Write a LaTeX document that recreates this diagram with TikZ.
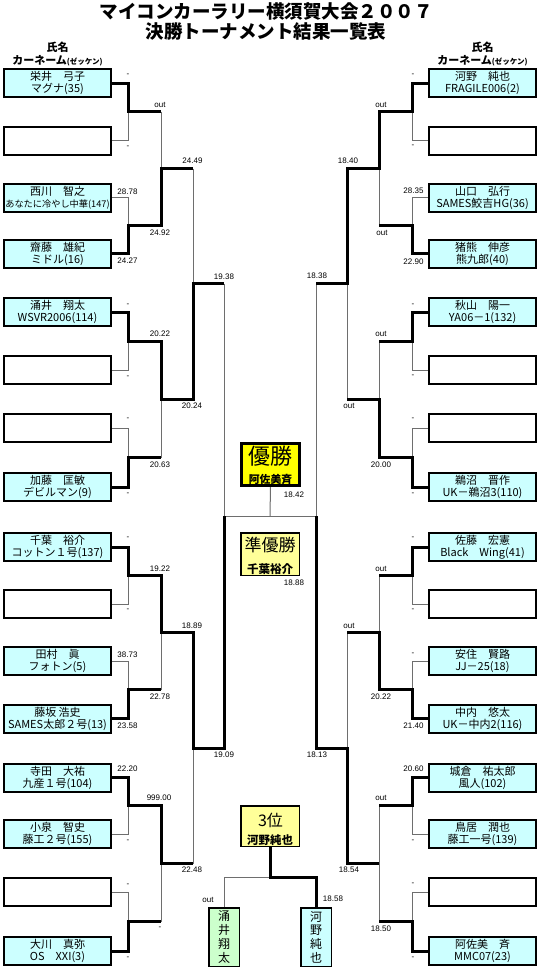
\documentclass[tikz,border=0pt]{standalone}
\usepackage{fontspec}
\setmainfont{Noto Sans CJK JP}
\newfontfamily\numfont{Liberation Sans}
\usetikzlibrary{calc}
\definecolor{boxcyan}{RGB}{204,255,255}
\definecolor{boxgreen}{RGB}{204,255,204}
\definecolor{goldyel}{RGB}{255,255,0}
\definecolor{paleyel}{RGB}{255,255,153}
\definecolor{linegray}{RGB}{110,110,110}
\begin{document}
\begin{tikzpicture}[x=1pt,y=-1pt,
  cbox/.style={draw=black,line width=2pt,fill=boxcyan,minimum width=107pt,minimum height=28pt,inner sep=0pt,align=center,font=\fontsize{11}{12}\selectfont},
  ebox/.style={draw=black,line width=2pt,fill=white,minimum width=107pt,minimum height=28pt,inner sep=0pt},
  vbox/.style={draw=black,line width=1.5pt,minimum width=30.5pt,minimum height=58.5pt,inner sep=0pt,align=center,font=\fontsize{12}{13.7}\selectfont},
  thn/.style={line width=1pt,draw=linegray},
  thk/.style={line width=3pt,draw=black},
  tlab/.style={font=\numfont\fontsize{8}{9}\selectfont,inner sep=0pt},
  hdr/.style={font=\bfseries\fontsize{11}{12}\selectfont,inner sep=0pt},
  ttl/.style={font=\bfseries\fontsize{18.5}{20}\selectfont,inner sep=0pt}
]
\fill[white] (0,0) rectangle (540,969);
\useasboundingbox (0,0) rectangle (540,969);

% title
\node[ttl] (T1) at (266,12) {マイコンカーラリー横須賀大会２００７};
\node[ttl] (T2) at (266,31) {決勝トーナメント結果一覧表};

% headers
\node[hdr] (LH1) at (57.5,47) {氏名};
\node[hdr] (LH2) at (57.5,60.5) {カーネーム{\fontsize{7.5}{8}\selectfont (ゼッケン)}};
\node[hdr] (RH1) at (482.5,47) {氏名};
\node[hdr] (RH2) at (482.5,60.5) {カーネーム{\fontsize{7.5}{8}\selectfont (ゼッケン)}};

% left boxes
\node[cbox] (L1) at (57.5,83) {栄井　弓子\\マグナ(35)};
\node[ebox] (L2) at (57.5,140.5) {};
\node[cbox] (L3) at (57.5,197.5) {西川　智之\\{\fontsize{9.2}{12}\selectfont あなたに冷やし中華(147)}};
\node[cbox] (L4) at (57.5,253.5) {齋藤　雄紀\\ミドル(16)};
\node[cbox] (L5) at (57.5,312) {涌井　翔太\\WSVR2006(114)};
\node[ebox] (L6) at (57.5,370) {};
\node[ebox] (L7) at (57.5,428) {};
\node[cbox] (L8) at (57.5,487) {加藤　匡敏\\デビルマン(9)};
\node[cbox] (L9) at (57.5,547) {千葉　裕介\\コットン１号(137)};
\node[ebox] (L10) at (57.5,604) {};
\node[cbox] (L11) at (57.5,661) {田村　眞\\フォトン(5)};
\node[cbox] (L12) at (57.5,718.5) {藤坂 浩史\\SAMES太郎２号(13)};
\node[cbox] (L13) at (57.5,777.5) {寺田　大祐\\九産１号(104)};
\node[cbox] (L14) at (57.5,834) {小泉　智史\\藤工２号(155)};
\node[ebox] (L15) at (57.5,892) {};
\node[cbox] (L16) at (57.5,951) {大川　真弥\\OS　XXI(3)};

% right boxes
\node[cbox] (R1) at (482.5,83) {河野　純也\\FRAGILE006(2)};
\node[ebox] (R2) at (482.5,140.5) {};
\node[cbox] (R3) at (482.5,197.5) {山口　弘行\\SAMES鮫吉HG(36)};
\node[cbox] (R4) at (482.5,253.5) {猪熊　伸彦\\熊九郎(40)};
\node[cbox] (R5) at (482.5,312) {秋山　陽一\\YA06－1(132)};
\node[ebox] (R6) at (482.5,370) {};
\node[ebox] (R7) at (482.5,428) {};
\node[cbox] (R8) at (482.5,487) {鵜沼　晋作\\UK－鵜沼3(110)};
\node[cbox] (R9) at (482.5,547) {佐藤　宏憲\\Black　Wing(41)};
\node[ebox] (R10) at (482.5,604) {};
\node[cbox] (R11) at (482.5,661) {安住　賢路\\JJ－25(18)};
\node[cbox] (R12) at (482.5,718.5) {中内　悠太\\UK－中内2(116)};
\node[cbox] (R13) at (482.5,777.5) {城倉　祐太郎\\風人(102)};
\node[cbox] (R14) at (482.5,834) {鳥居　潤也\\藤工一号(139)};
\node[ebox] (R15) at (482.5,892) {};
\node[cbox] (R16) at (482.5,951) {阿佐美　斉\\MMC07(23)};

% junction coordinates
\foreach \k in {1,...,8}{
  \pgfmathtruncatemacro{\a}{2*\k-1}
  \pgfmathtruncatemacro{\b}{2*\k}
  \coordinate (la\k) at ($(L\a.east)!0.5!(L\b.east)+(16,0)$);
  \coordinate (lb\k) at ($(la\k)+(33,0)$);
  \coordinate (ra\k) at ($(R\a.west)!0.5!(R\b.west)+(-16,0)$);
  \coordinate (rb\k) at ($(ra\k)+(-33,0)$);
}
\foreach \k in {1,...,4}{
  \pgfmathtruncatemacro{\a}{2*\k-1}
  \pgfmathtruncatemacro{\b}{2*\k}
  \coordinate (lc\k) at ($(lb\a)!0.5!(lb\b)$);
  \coordinate (ld\k) at ($(lc\k)+(32,0)$);
  \coordinate (rc\k) at ($(rb\a)!0.5!(rb\b)$);
  \coordinate (rd\k) at ($(rc\k)+(-32,0)$);
}
\foreach \k in {1,2}{
  \pgfmathtruncatemacro{\a}{2*\k-1}
  \pgfmathtruncatemacro{\b}{2*\k}
  \coordinate (le\k) at ($(ld\a)!0.5!(ld\b)$);
  \coordinate (lf\k) at ($(le\k)+(31,0)$);
  \coordinate (re\k) at ($(rd\a)!0.5!(rd\b)$);
  \coordinate (rf\k) at ($(re\k)+(-31,0)$);
}
\coordinate (lg) at ($(lf1)!0.5!(lf2)$);
\coordinate (rg) at ($(rf1)!0.5!(rf2)$);
\coordinate (fc) at ($(lg)!0.5!(rg)$);

% final boxes
\node[draw=black,line width=3pt,fill=goldyel,minimum width=58pt,minimum height=42pt,inner sep=0pt] (WIN) at (270.5,464.5) {};
\node[inner sep=0pt,font=\fontsize{22}{24}\selectfont] (WINt) at (270.5,456.5) {優勝};
\node[inner sep=0pt,font=\bfseries\fontsize{10.8}{12}\selectfont] (WINn) at (270.5,479) {阿佐美斉};
\node[draw=black,line width=1.5pt,fill=paleyel,minimum width=58.5pt,minimum height=42.5pt,inner sep=0pt] (RUN) at (270,554) {};
\node[inner sep=0pt,font=\fontsize{17}{19}\selectfont] (RUNt) at (270,545) {準優勝};
\node[inner sep=0pt,font=\bfseries\fontsize{11.5}{12}\selectfont] (RUNn) at (270,569) {千葉裕介};
\node[draw=black,line width=1.5pt,fill=paleyel,minimum width=58.5pt,minimum height=40.5pt,inner sep=0pt] (B3) at (270,826) {};
\node[inner sep=0pt,font=\fontsize{16}{18}\selectfont] (B3t) at (270.5,820) {3位};
\node[inner sep=0pt,font=\bfseries\fontsize{11.5}{12}\selectfont] (B3n) at (270,840) {河野純也};
\node[vbox,fill=boxgreen] (V1) at (224,937) {涌\\井\\翔\\太};
\node[vbox,fill=boxcyan] (V2) at (316,937) {河\\野\\純\\也};
\coordinate (j3) at (270,877);

% thin lines
\draw[thn] (L2.east) -| (la1);
\draw[thn] (L3.east) -| (la2);
\draw[thn] (L6.east) -| (la3);
\draw[thn] (L7.east) -| (la4);
\draw[thn] (L10.east) -| (la5);
\draw[thn] (L11.east) -| (la6);
\draw[thn] (L14.east) -| (la7);
\draw[thn] (L15.east) -| (la8);
\draw[thn] (lb1) -- (lc1);
\draw[thn] (lb4) -- (lc2);
\draw[thn] (lb6) -- (lc3);
\draw[thn] (lb8) -- (lc4);
\draw[thn] (ld1) -- (le1);
\draw[thn] (ld4) -- (le2);
\draw[thn] (lf1) -- (lg);

\draw[thn] (R2.west) -| (ra1);
\draw[thn] (R3.west) -| (ra2);
\draw[thn] (R6.west) -| (ra3);
\draw[thn] (R7.west) -| (ra4);
\draw[thn] (R10.west) -| (ra5);
\draw[thn] (R11.west) -| (ra6);
\draw[thn] (R14.west) -| (ra7);
\draw[thn] (R15.west) -| (ra8);
\draw[thn] (rb2) -- (rc1);
\draw[thn] (rb3) -- (rc2);
\draw[thn] (rb5) -- (rc3);
\draw[thn] (rb7) -- (rc4);
\draw[thn] (rb8) -- (rc4);
\draw[thn] (rd2) -- (re1);
\draw[thn] (rd3) -- (re2);
\draw[thn] (rf1) -- (rg);

\draw[thn] (lg) -- (rg);
\draw[thn] (fc) -- (WIN.south);
\draw[thn] (V1.north) |- (j3);

% thick lines
\draw[thk] (L1.east) -| (la1) -- (lb1);
\draw[thk] (L4.east) -| (la2) -- (lb2) -- (lc1) -- (ld1);
\draw[thk] (L5.east) -| (la3) -- (lb3) -- (lc2) -- (ld2) -- (le1) -- (lf1);
\draw[thk] (L8.east) -| (la4) -- (lb4);
\draw[thk] (L9.east) -| (la5) -- (lb5) -- (lc3) -- (ld3) -- (le2) -- (lf2) -- (lg);
\draw[thk] (L12.east) -| (la6) -- (lb6);
\draw[thk] (L13.east) -| (la7) -- (lb7) -- (lc4) -- (ld4);
\draw[thk] (L16.east) -| (la8) -- (lb8);

\draw[thk] (R1.west) -| (ra1) -- (rb1) -- (rc1) -- (rd1) -- (re1) -- (rf1);
\draw[thk] (R4.west) -| (ra2) -- (rb2);
\draw[thk] (R5.west) -| (ra3) -- (rb3);
\draw[thk] (R8.west) -| (ra4) -- (rb4) -- (rc2) -- (rd2);
\draw[thk] (R9.west) -| (ra5) -- (rb5);
\draw[thk] (R12.west) -| (ra6) -- (rb6) -- (rc3) -- (rd3);
\draw[thk] (R13.west) -| (ra7) -- (rb7);
\draw[thk] (R16.west) -| (ra8) -- (rb8);
\draw[thk] (rc4) -- (rd4) -- (re2) -- (rf2) -- (rg);

\draw[thk] (V2.north) |- (j3) -- (B3.south);

% left labels
\node[tlab] (a01) at (128,75) {-};
\node[tlab] (a02) at (128,147) {-};
\node[tlab] (a03) at (160,105) {out};
\node[tlab] (a04) at (127.5,192) {28.78};
\node[tlab] (a05) at (127.5,261) {24.27};
\node[tlab] (a06) at (160,233) {24.92};
\node[tlab] (a07) at (192.5,161) {24.49};
\node[tlab] (a08) at (128,305) {-};
\node[tlab] (a09) at (128,377) {-};
\node[tlab] (a10) at (160,334) {20.22};
\node[tlab] (a11) at (128,419) {-};
\node[tlab] (a12) at (128,494) {-};
\node[tlab] (a13) at (160,465) {20.63};
\node[tlab] (a14) at (192,406) {20.24};
\node[tlab] (a15) at (224,277) {19.38};
\node[tlab] (a16) at (128,538) {-};
\node[tlab] (a17) at (128,610) {-};
\node[tlab] (a18) at (160,569) {19.22};
\node[tlab] (a19) at (127.5,655) {38.73};
\node[tlab] (a20) at (127.5,726) {23.58};
\node[tlab] (a21) at (160,697) {22.78};
\node[tlab] (a22) at (192,626) {18.89};
\node[tlab] (a23) at (127.5,769) {22.20};
\node[tlab] (a24) at (128,841) {-};
\node[tlab] (a25) at (159,798) {999.00};
\node[tlab] (a26) at (128,885) {-};
\node[tlab] (a27) at (128,958) {-};
\node[tlab] (a28) at (160,928) {-};
\node[tlab] (a29) at (192,870) {22.48};
\node[tlab] (a30) at (224,755) {19.09};

% right labels
\node[tlab] (b01) at (413,75) {-};
\node[tlab] (b02) at (413,146) {-};
\node[tlab] (b03) at (381,105) {out};
\node[tlab] (b04) at (413.5,191) {28.35};
\node[tlab] (b05) at (413.5,262) {22.90};
\node[tlab] (b06) at (382,233) {out};
\node[tlab] (b07) at (348,161) {18.40};
\node[tlab] (b08) at (413,305) {-};
\node[tlab] (b09) at (413,376) {-};
\node[tlab] (b10) at (381,334) {out};
\node[tlab] (b11) at (413,419) {-};
\node[tlab] (b12) at (413,494) {-};
\node[tlab] (b13) at (381,465) {20.00};
\node[tlab] (b14) at (349,406) {out};
\node[tlab] (b15) at (317,276) {18.38};
\node[tlab] (b16) at (413,538) {-};
\node[tlab] (b17) at (413,610) {-};
\node[tlab] (b18) at (381,569) {out};
\node[tlab] (b19) at (413,654) {-};
\node[tlab] (b20) at (413.5,726) {21.40};
\node[tlab] (b21) at (381,697) {20.22};
\node[tlab] (b22) at (349,626) {out};
\node[tlab] (b23) at (413.5,769) {20.60};
\node[tlab] (b24) at (413,841) {-};
\node[tlab] (b25) at (381,798) {out};
\node[tlab] (b26) at (413,884) {-};
\node[tlab] (b27) at (413,958) {-};
\node[tlab] (b28) at (381,929) {18.50};
\node[tlab] (b29) at (349,870) {18.54};
\node[tlab] (b30) at (317,755) {18.13};

% centre labels
\node[tlab] (c01) at (294,495) {18.42};
\node[tlab] (c02) at (294,583) {18.88};
\node[tlab] (c03) at (208,900) {out};
\node[tlab] (c04) at (333,899) {18.58};
\end{tikzpicture}
\end{document}
